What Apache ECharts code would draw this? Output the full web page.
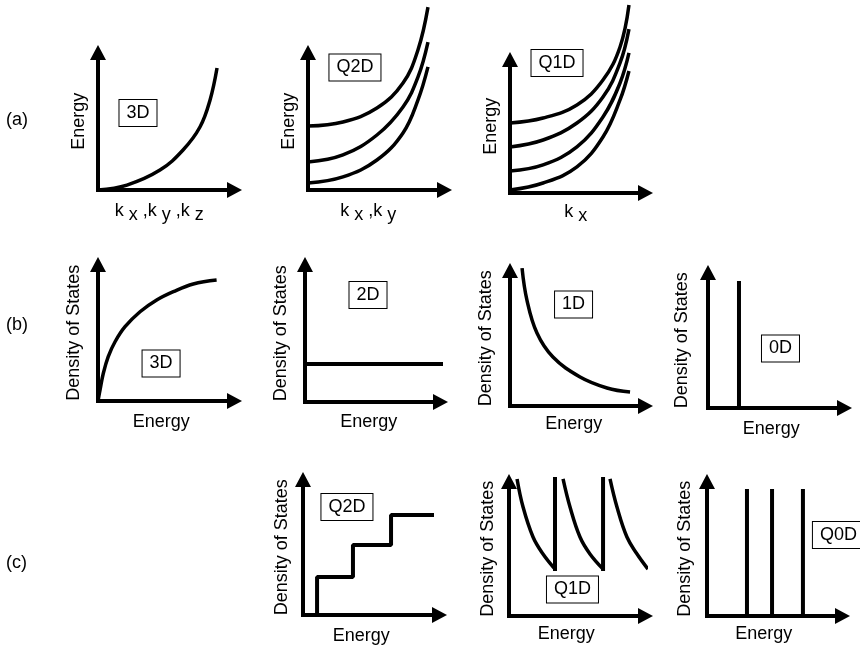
<!DOCTYPE html>
<html lang="en">
<head>
<meta charset="UTF-8">
<title>Dispersion and density of states</title>
<script src="https://cdn.jsdelivr.net/npm/echarts@6.0.0/dist/echarts.min.js"></script>
<style>
  html, body { margin: 0; padding: 0; background: #fff; }
  #chart { width: 860px; height: 647px; }
</style>
</head>
<body>
<div id="chart"></div>
<script>
// ---- data (axis units 0..10) ----
// (a) E(k)
var bulkK = [0, 2.12, 4.54, 6.23, 7.47, 8.21, 8.72];
var bulkE = [0, 0.36, 1.45, 2.91, 4.58, 6.55, 8.87];
var q2dK = [0, 2.56, 5.05, 6.96, 8.06, 8.79];
var q2dE = [
  [4.65, 4.95, 5.96, 7.78, 10.2, 13.3],
  [2.04, 2.55, 4.0, 6.04, 8.22, 10.76],
  [0.51, 0.95, 2.18, 4.15, 6.55, 8.95]
];
var q1dK = [0, 2.44, 4.94, 6.86, 8.12, 8.78];
var q1dE = [
  [5.24, 5.62, 6.59, 8.46, 10.94, 14.08],
  [3.45, 3.97, 5.24, 7.19, 9.74, 12.28],
  [1.65, 2.10, 3.45, 5.69, 8.24, 10.49],
  [0.22, 0.75, 1.95, 4.19, 6.97, 9.14]
];
// (b) density of states
var dos3dE = [0, 0.15, 0.39, 0.75, 1.25, 1.98, 3.08, 4.30, 5.52, 6.98, 8.69];
var dos3dG = [0, 0.81, 2.03, 3.25, 4.34, 5.44, 6.54, 7.40, 8.01, 8.57, 8.86];
var dos2dE = [0, 10.3];
var dos2dG = 2.76;
var dos1dE = [0.89, 1.25, 1.99, 3.17, 5.17, 7.16, 8.86];
var dos1dG = [10.18, 7.82, 5.39, 3.62, 2.14, 1.33, 1.03];
var dos0dE = 2.27;
var dos0dG = 9.37;
// (c) quasi low-dimensional
var q2dStepE = [1.03, 3.66, 6.45, 9.45];
var q2dStepG = [0, 2.8, 5.17, 7.38];
var q1dBranchE = [
  [0.59, 1.03, 1.76, 2.49, 3.37],
  [3.96, 4.47, 5.20, 5.93, 6.89],
  [7.40, 7.91, 8.64, 9.38, 10.18]
];
var q1dBranchG = [10.19, 8.10, 5.87, 4.61, 3.49];
var q1dEdgeTop = 10.19;
var q0dLevels = [2.95, 4.80, 7.08];
var q0dTop = 9.44;

// ---- layout ----
var FONT = 'Liberation Sans, Arial, sans-serif';
var kx = '{k|k}{s| x}';
var kxy = '{k|k}{s| x}{k| ,k}{s| y}';
var kxyz = '{k|k}{s| x}{k| ,k}{s| y}{k| ,k}{s| z}';
var DOS = 'Density of States';

// origin (ox, oy) and arrow tips (tx, ty) in px
var panels = [
  {ox: 98,  oy: 190, tx: 242, ty: 45,  yName: 'Energy', yGap: 10, xName: kxyz, xGap: 12, xShift: -7, tag: '3D',  tagAt: [2.93, 5.6]},
  {ox: 308, oy: 190, tx: 452, ty: 45,  yName: 'Energy', yGap: 10, xName: kxy,  xGap: 12, xShift: -8, tag: 'Q2D', tagAt: [3.44, 8.91]},
  {ox: 510, oy: 193, tx: 653, ty: 52,  yName: 'Energy', yGap: 10, xName: kx,   xGap: 10, xShift: -2, tag: 'Q1D', tagAt: [3.47, 9.74]},
  {ox: 98,  oy: 401, tx: 242, ty: 257, yName: DOS, yGap: 15, xName: 'Energy', xGap: 12, xShift: -5, tag: '3D', tagAt: [4.62, 2.75]},
  {ox: 305, oy: 402, tx: 448, ty: 257, yName: DOS, yGap: 15, xName: 'Energy', xGap: 11, xShift: -4, tag: '2D', tagAt: [4.65, 7.78]},
  {ox: 510, oy: 406, tx: 653, ty: 263, yName: DOS, yGap: 15, xName: 'Energy', xGap: 9,  xShift: -4, tag: '1D', tagAt: [4.69, 7.49]},
  {ox: 708, oy: 408, tx: 852, ty: 265, yName: DOS, yGap: 17, xName: 'Energy', xGap: 12, xShift: -5, tag: '0D', tagAt: [5.31, 4.39]},
  {ox: 303, oy: 615, tx: 447, ty: 472, yName: DOS, yGap: 12, xName: 'Energy', xGap: 12, xShift: -10, tag: 'Q2D', tagAt: [3.22, 7.97]},
  {ox: 509, oy: 616, tx: 653, ty: 474, yName: DOS, yGap: 12, xName: 'Energy', xGap: 9,  xShift: -11, tag: 'Q1D', tagAt: [4.65, 1.97]},
  {ox: 707, oy: 616, tx: 850, ty: 474, yName: DOS, yGap: 13, xName: 'Energy', xGap: 9,  xShift: -11, tag: 'Q0D', tagAt: [9.7, 6.02]}
];
var ARROW = 15; // arrow head length

var grids = [], xAxes = [], yAxes = [], series = [];

function axisLine() {
  return {
    onZero: false,
    symbol: ['none', 'triangle'],
    symbolSize: [16, ARROW],
    lineStyle: {color: '#000', width: 4, cap: 'square'}
  };
}

panels.forEach(function (p, i) {
  var top = p.ty + ARROW / 2;
  grids.push({
    left: p.ox, top: top,
    width: p.tx - ARROW / 2 - p.ox,
    height: p.oy - top,
    outerBoundsMode: 'none'
  });
  var common = {
    type: 'value', gridIndex: i, min: 0, max: 10,
    axisLine: axisLine(),
    axisTick: {show: false},
    axisLabel: {show: false},
    splitLine: {show: false},
    nameLocation: 'middle'
  };
  xAxes.push(Object.assign({}, common, {
    name: p.xName,
    nameGap: p.xGap,
    nameTextStyle: {
      fontFamily: FONT, fontSize: 18, color: '#000', lineHeight: 18,
      padding: [0, -2 * p.xShift, 0, 0],
      rich: {
        k: {fontFamily: FONT, fontSize: 18, color: '#000', lineHeight: 18, verticalAlign: 'top'},
        // subscript: pushed down by its top padding
        s: {fontFamily: FONT, fontSize: 18, color: '#000', lineHeight: 18, verticalAlign: 'top', padding: [4, 0, 0, 0]}
      }
    }
  }));
  yAxes.push(Object.assign({}, common, {
    name: p.yName,
    nameGap: p.yGap,
    nameRotate: 90,
    nameTextStyle: {fontFamily: FONT, fontSize: 18, color: '#000'}
  }));
  // boxed tag
  series.push({
    type: 'scatter', xAxisIndex: i, yAxisIndex: i, silent: true,
    symbolSize: 0, itemStyle: {color: '#fff', opacity: 1},
    data: [p.tagAt],
    label: {
      show: true, position: 'inside', formatter: p.tag,
      fontFamily: FONT, fontSize: 18, color: '#000', lineHeight: 18,
      textBorderWidth: 0, opacity: 1,
      borderColor: '#000', borderWidth: 1, padding: [4, 7, 4, 7], backgroundColor: '#fff'
    }
  });
});

function zip(xs, ys) {
  return xs.map(function (x, j) { return [x, ys[j]]; });
}
function curve(i, data, opts) {
  return Object.assign({
    type: 'line', xAxisIndex: i, yAxisIndex: i, data: data,
    showSymbol: false, symbol: 'none', clip: false, silent: true,
    smooth: 0.4,
    lineStyle: {color: '#000', width: 3.5}
  }, opts || {});
}
function straight(i, data, opts) {
  return curve(i, data, Object.assign({smooth: false, lineStyle: {color: '#000', width: 4, cap: 'square'}}, opts || {}));
}

// (a)
series.push(curve(0, zip(bulkK, bulkE)));
q2dE.forEach(function (e) { series.push(curve(1, zip(q2dK, e))); });
q1dE.forEach(function (e) { series.push(curve(2, zip(q1dK, e))); });
// (b)
series.push(curve(3, zip(dos3dE, dos3dG)));
series.push(straight(4, [[dos2dE[0], dos2dG], [dos2dE[1], dos2dG]], {lineStyle: {color: '#000', width: 4}}));
series.push(curve(5, zip(dos1dE, dos1dG)));
series.push(straight(6, [[dos0dE, 0], [dos0dE, dos0dG]], {lineStyle: {color: '#000', width: 4}}));
// (c)
series.push(straight(7, zip(q2dStepE, q2dStepG), {step: 'start'}));
q1dBranchE.forEach(function (es, j) {
  series.push(curve(8, zip(es, q1dBranchG)));
  if (j < q1dBranchE.length - 1) {
    var e = es[es.length - 1];
    series.push(straight(8, [[e, q1dBranchG[q1dBranchG.length - 1]], [e, q1dEdgeTop]]));
  }
});
q0dLevels.forEach(function (e) {
  series.push(straight(9, [[e, 0], [e, q0dTop]], {lineStyle: {color: '#000', width: 4}}));
});

var rowTags = [['(a)', 122], ['(b)', 327], ['(c)', 565]];

var chart = echarts.init(document.getElementById('chart'));
chart.setOption({
  animation: false,
  backgroundColor: '#fff',
  grid: grids,
  xAxis: xAxes,
  yAxis: yAxes,
  series: series,
  graphic: rowTags.map(function (t) {
    return {
      type: 'text', left: 6, top: t[1] - 11, silent: true,
      style: {text: t[0], fontFamily: FONT, fontSize: 18, fill: '#000'}
    };
  })
});
</script>
</body>
</html>
